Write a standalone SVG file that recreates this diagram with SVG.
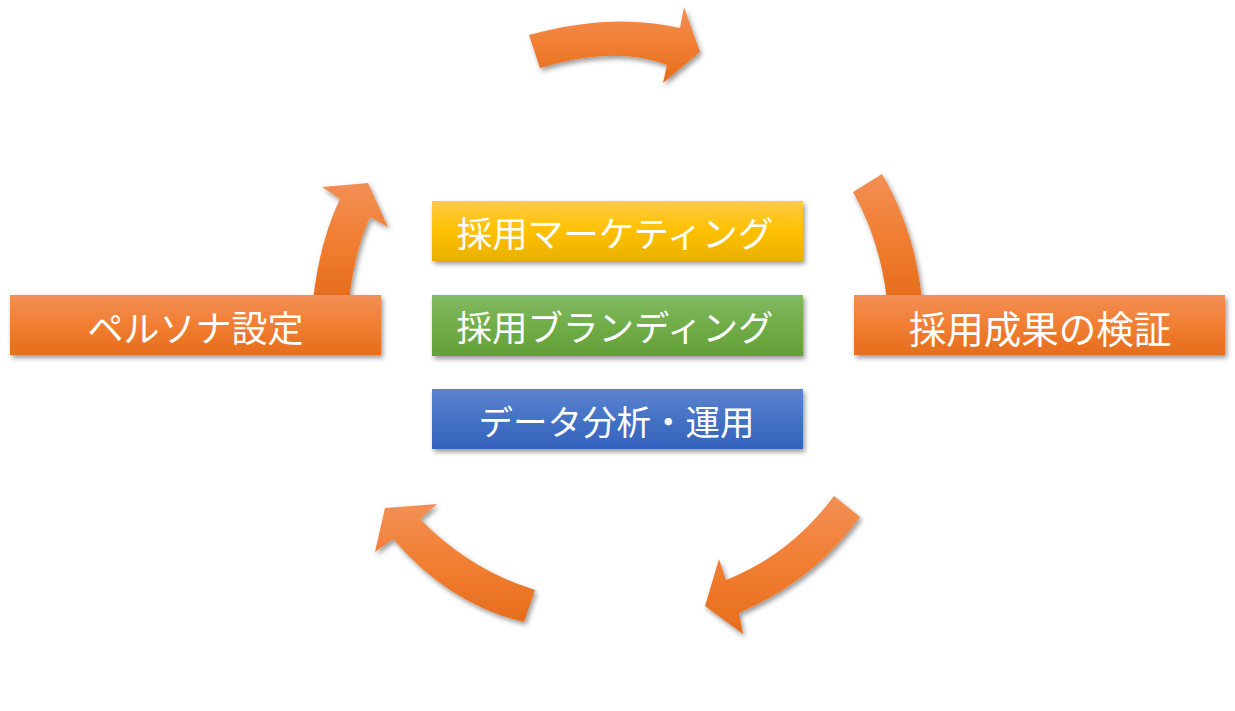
<svg xmlns="http://www.w3.org/2000/svg" width="1235" height="711" viewBox="0 0 1235 711">
<defs>
<linearGradient id="gOrange" x1="0" y1="0" x2="0" y2="1"><stop offset="0" stop-color="#f28f55"/><stop offset="0.5" stop-color="#f17e32"/><stop offset="1" stop-color="#e66d1c"/></linearGradient>
<linearGradient id="gYellow" x1="0" y1="0" x2="0" y2="1"><stop offset="0" stop-color="#ffcb45"/><stop offset="0.5" stop-color="#ffc000"/><stop offset="1" stop-color="#e8b000"/></linearGradient>
<linearGradient id="gGreen" x1="0" y1="0" x2="0" y2="1"><stop offset="0" stop-color="#83ba63"/><stop offset="0.5" stop-color="#70ad47"/><stop offset="1" stop-color="#63a03a"/></linearGradient>
<linearGradient id="gBlue" x1="0" y1="0" x2="0" y2="1"><stop offset="0" stop-color="#5d83d1"/><stop offset="0.5" stop-color="#4472c4"/><stop offset="1" stop-color="#3562be"/></linearGradient>
<filter id="sh" x="-10%" y="-20%" width="130%" height="150%"><feDropShadow dx="2" dy="3" stdDeviation="2.5" flood-color="#000" flood-opacity="0.4"/></filter>
</defs>
<style>
.arrow{fill:url(#gOrange);filter:url(#sh)}
.box{filter:url(#sh)}
.lbl{fill:#ffffff;font-family:"Noto Sans CJK JP","Noto Sans",sans-serif;font-size:35.5px;text-anchor:middle}
.big{font-size:36px}
.big2{font-size:37.5px}
</style>
<rect width="1235" height="711" fill="#ffffff"/>
<g id="connectors">
<path class="arrow" d="M529,35 Q612,12 680,28 L684,7 L700,52 L663,83 L667,65 Q615,45 540,68 Z"/>
<path class="arrow" d="M853,192 L882,174 Q915,230 922,300 L887,300 Q880,240 853,192 Z"/>
<path class="arrow" d="M834,496 L860,517 Q815,580 739,613 L743,634 L705,606 L719,559 L726,580 Q790,555 834,496 Z"/>
<path class="arrow" d="M385,508 L437,504 L420,519 Q470,570 535,590 L524,622 Q450,605 393,539 L375,552 Z"/>
<path class="arrow" d="M322,187 L368,183 L388,227 L370,217 Q355,250 349,300 L313,300 Q320,240 340,199 Z"/>
</g>
<g id="persona">
<rect class="box" x="10" y="295" width="371" height="60" fill="url(#gOrange)"/>
<text class="lbl big" x="195.5" y="342">ペルソナ設定</text>
</g>
<g id="kensho">
<rect class="box" x="854" y="295" width="371" height="60" fill="url(#gOrange)"/>
<text class="lbl big2" x="1040" y="342.5">採用成果の検証</text>
</g>
<g id="marketing">
<rect class="box" x="432" y="201" width="371" height="60" fill="url(#gYellow)"/>
<text class="lbl" x="615" y="247">採用マーケティング</text>
</g>
<g id="branding">
<rect class="box" x="432" y="295" width="371" height="61" fill="url(#gGreen)"/>
<text class="lbl" x="615" y="341">採用ブランディング</text>
</g>
<g id="data">
<rect class="box" x="432" y="389" width="371" height="60" fill="url(#gBlue)"/>
<text class="lbl" x="616.5" y="435" style="font-size:34.5px">データ分析・運用</text>
</g>
</svg>
